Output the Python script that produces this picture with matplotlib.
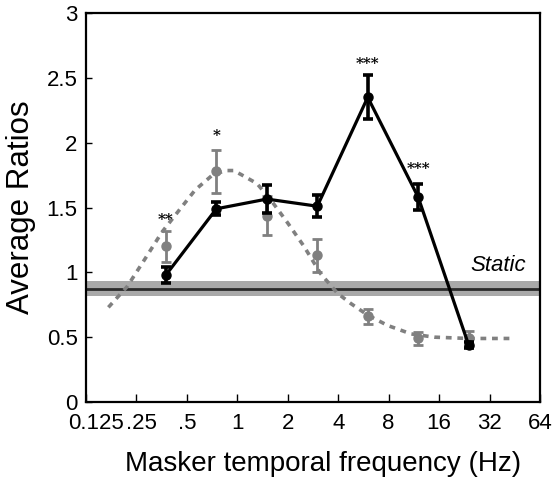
import matplotlib
matplotlib.use("Agg")
import matplotlib.pyplot as plt
import matplotlib.transforms as mtransforms

plt.rcParams['font.family'] = ['Liberation Sans', 'DejaVu Sans']

# Data
freqs = [0.375, 0.75, 1.5, 3, 6, 12, 24]
black_vals = [0.98, 1.49, 1.565, 1.51, 2.35, 1.58, 0.44]
black_err = [0.06, 0.05, 0.11, 0.085, 0.17, 0.10, 0.02]
grey_vals = [1.20, 1.78, 1.435, 1.13, 0.66, 0.49, 0.49]
grey_err = [0.12, 0.165, 0.15, 0.13, 0.058, 0.05, 0.055]

curve_f = [0.17, 0.22, 0.28, 0.355, 0.45, 0.56, 0.71, 0.85, 0.95, 1.05, 1.31, 1.58,
           2.0, 2.5, 3.14, 3.95, 4.75, 6.0, 7.9, 10.9, 15, 24, 43]
curve_v = [0.73, 0.89, 1.10, 1.31, 1.48, 1.635, 1.75, 1.785, 1.785, 1.755, 1.685, 1.56,
           1.38, 1.20, 0.99, 0.84, 0.76, 0.67, 0.59, 0.525, 0.50, 0.49, 0.49]

static_val = 0.875
static_err = 0.058

stars = ['**', '*', '***', '***']
star_x = [0.375, 0.75, 6, 12]
star_y = [1.40, 2.05, 2.61, 1.80]

xticks = [0.125, 0.25, 0.5, 1, 2, 4, 8, 16, 32, 64]
xticklabels = ['0.125', '.25', '.5', '1', '2', '4', '8', '16', '32', '64']
yticks = [0, 0.5, 1, 1.5, 2, 2.5, 3]
yticklabels = ['0', '0.5', '1', '1.5', '2', '2.5', '3']

grey = '#808080'

fig = plt.figure(figsize=(5.57, 4.79), dpi=100)
ax = fig.add_axes([86/557, 77/479, 454/557, 389/479])
ax.set_xscale('log', base=2)
ax.set_xlim(0.125, 64)
ax.set_ylim(0, 3)

# static band
ax.axhspan(static_val - static_err, static_val + static_err, color='#a9a9a9', lw=0, zorder=1)
ax.axhline(static_val, color='#2a2a2a', lw=2.0, zorder=2)
ax.text(53, 1.05, 'Static', style='italic', fontsize=16, ha='right', va='center')

# fitted dashed curve
ax.plot(curve_f, curve_v, color=grey, lw=2.6, linestyle=(0, (1.6, 1.6)), zorder=3)

# grey data
ax.errorbar(freqs, grey_vals, yerr=grey_err, fmt='o', color=grey, ms=6.5,
            elinewidth=2.0, capsize=3.5, capthick=2.0, zorder=4)

# black data
ax.errorbar(freqs, black_vals, yerr=black_err, fmt='-o', color='black', ms=6.5, lw=2.3,
            elinewidth=2.6, capsize=3.5, capthick=2.6, zorder=5)

for sx, sy, s in zip(star_x, star_y, stars):
    ax.text(sx, sy, s, ha='center', va='center', fontsize=11, fontweight='bold',
            family='DejaVu Serif')

ax.set_xticks(xticks)
ax.set_xticklabels(xticklabels)
ax.minorticks_off()
ax.set_yticks(yticks)
ax.set_yticklabels(yticklabels)
ax.tick_params(axis='both', direction='in', labelsize=16, width=1.0)
ax.tick_params(axis='x', length=6, pad=8)
ax.tick_params(axis='y', length=4, pad=6)
for sp in ax.spines.values():
    sp.set_linewidth(1.6)

# shift the first two x tick labels to the right as in the reference
labels = ax.get_xticklabels()
for lab, dx in ((labels[0], 0.10), (labels[1], 0.05)):
    lab.set_transform(lab.get_transform() +
                      mtransforms.ScaledTranslation(dx, 0, fig.dpi_scale_trans))

ax.set_xlabel('Masker temporal frequency (Hz)', fontsize=20, labelpad=12)
ax.xaxis.label.set_x(0.522)
ax.set_ylabel('Average Ratios', fontsize=22.5, labelpad=8)

fig.savefig('out.png', dpi=100)
